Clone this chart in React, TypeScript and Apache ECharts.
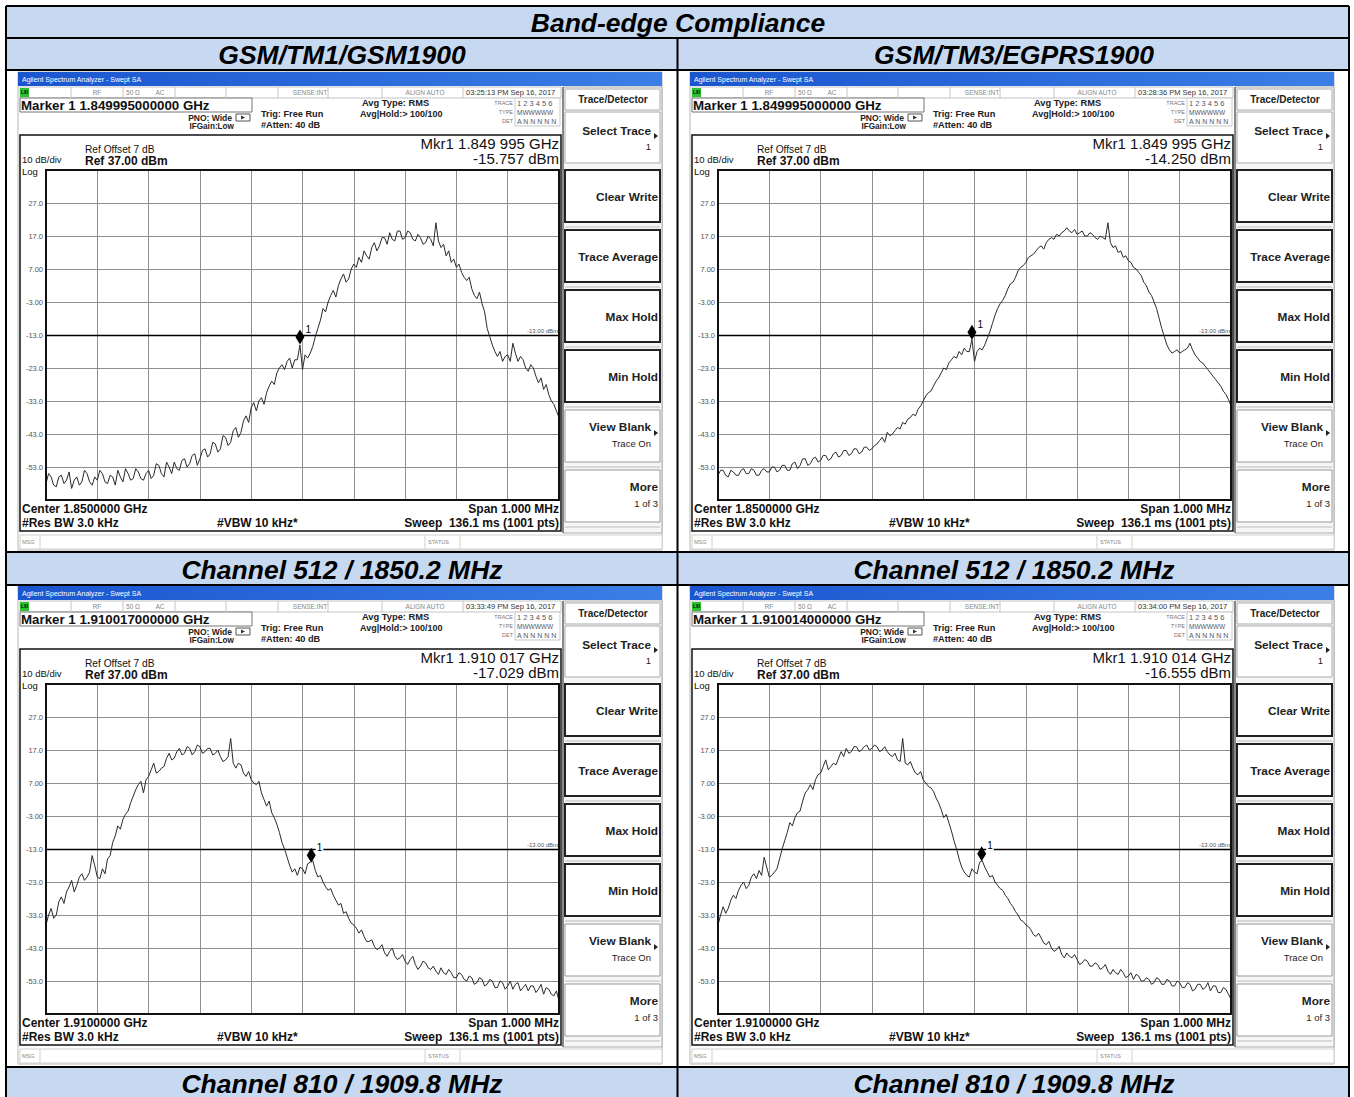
import React, { useEffect, useRef } from 'react';
import * as echarts from 'echarts';

const TITLE = 'Band-edge Compliance';
const COLUMN_HEADERS = ['GSM/TM1/GSM1900', 'GSM/TM3/EGPRS1900'];
const ROW_FOOTERS = ['Channel 512 / 1850.2 MHz', 'Channel 810 / 1909.8 MHz'];

const CENTER_TEXT = ['1.8500000', '1.8500000', '1.9100000', '1.9100000'];
const SPAN_KHZ = 1000;
const STEP_KHZ = 5;
const REF_LEVEL = 37;
const DB_PER_DIV = 10;
const LIMIT_DBM = -13;
const MARKER_OFFSET_KHZ = [495, 495, 517, 514];
const MARKER_LEVEL = [-15.757, -14.25, -17.029, -16.555];
const MARKER_FREQ_TEXT = ['1.849995000000', '1.849995000000', '1.910017000000', '1.910014000000'];
const MKR_FREQ_READOUT = ['1.849 995', '1.849 995', '1.910 017', '1.910 014'];
const MKR_LEVEL_READOUT = ['-15.757', '-14.250', '-17.029', '-16.555'];
const TIMESTAMPS = ['03:25:13 PM Sep 16, 2017', '03:28:36 PM Sep 16, 2017', '03:33:49 PM Sep 16, 2017', '03:34:00 PM Sep 16, 2017'];
const SOFTKEYS = [['Clear Write'], ['Trace Average'], ['Max Hold'], ['Min Hold'], ['View Blank', 'Trace On'], ['More', '1 of 3']];

const TRACE_1 = [
  -58, -55, -56, -58.5, -59, -56, -55.5, -58, -57, -54.5,
  -59.5, -57, -56, -58.5, -57.5, -54, -55, -57.5, -58.5, -56,
  -57, -54, -55, -57.5, -58, -55.5, -56, -58.5, -54, -56,
  -57.5, -53.5, -55, -57, -56.5, -53.5, -54.5, -56.5, -57, -55,
  -54, -56.5, -55.5, -52, -52.5, -55, -56, -51.5, -53, -55,
  -51.5, -53.5, -54, -51, -50.5, -53, -52, -49.5, -49, -52.5,
  -50.5, -48, -47.5, -50, -49, -45.5, -46, -48.5, -47.5, -43.5,
  -44, -46.5, -45.5, -42, -41, -44, -42.5, -39, -37.5, -39.5,
  -35, -33.5, -36, -33, -32, -34, -30.5, -28.5, -27, -28,
  -24.5, -23, -22, -23.5, -21, -20, -23, -20.5, -20.5, -16,
  -23.5, -19, -20, -18.5, -16.5, -13.5, -11, -8.5, -5, -6,
  -3, -1, 0.5, -1.5, 2, 4, 5.5, 3, 4, 7,
  8.5, 7.5, 10.5, 9, 12.5, 11, 10, 13.5, 15, 12.5,
  14, 16.5, 16.5, 14.5, 18, 16, 15.5, 18.5, 18.5, 16,
  16.5, 18.5, 18, 16, 15.5, 17.5, 16.5, 14.5, 15, 17,
  16, 14, 21, 15.5, 13.5, 14.5, 11, 12.5, 9, 10,
  7.5, 8.5, 6, 4.5, 3.5, 4.5, 1, -1, -2, 0,
  -3.5, -6, -11, -13.5, -16, -18, -19.5, -18, -21, -19.5,
  -19, -21, -15.5, -18.5, -21, -19.5, -20.5, -23, -24, -22,
  -23, -25.5, -27.5, -26, -29.5, -28, -31, -33, -34, -36,
  -38,
];
const TRACE_2 = [
  -55.5, -54, -54, -55.5, -56, -54, -54.5, -55.5, -55.5, -54,
  -53.5, -55, -55, -53.5, -54, -55.5, -55.5, -54, -53.5, -54.5,
  -54.5, -53, -53, -54.5, -54, -52.5, -52.5, -54, -54, -52,
  -51.5, -53.5, -52.5, -50.5, -50.5, -52.5, -52, -50.5, -50, -51.5,
  -51, -49.5, -49.5, -51, -50.5, -49, -48.5, -50, -49.5, -48,
  -48, -49.5, -49, -47.5, -47.5, -49, -48.5, -47, -47, -48,
  -47.5, -46.5, -46, -45, -44, -45.5, -42.5, -43.5, -43, -42,
  -41, -41.5, -39.5, -40, -38.5, -38, -37, -37.5, -35.5, -34.5,
  -33, -31.5, -30.5, -30, -28.5, -27, -26, -24.5, -23, -23.5,
  -21.5, -20.5, -19.5, -20, -18, -19, -17, -18, -18, -14.3,
  -21, -18, -17, -17.5, -16, -14, -12, -9.5, -7, -5,
  -3.5, -2.5, -1, 1, 2.5, 3, 4.5, 6.5, 7.5, 8,
  9, 10.5, 11, 11.5, 12.5, 13.5, 14, 13, 15, 16,
  16.5, 16, 17.5, 17, 18, 18.5, 19.5, 18.5, 18, 19,
  17.5, 18, 18.5, 17, 17, 18, 17.5, 16.5, 16, 17,
  16.5, 16, 21, 15, 13.5, 14, 12, 12.5, 10.5, 11,
  9.5, 9, 7.5, 7, 6, 5, 3, 2, 0, -1,
  -3, -5, -8, -11, -13.5, -16, -17.5, -18.5, -18, -17.5,
  -18.5, -18, -17.5, -17, -15.5, -17.5, -19, -20, -21, -21.5,
  -22.5, -23.5, -24.5, -25.5, -26.5, -27.5, -28.5, -30, -31, -32.5,
  -34.5,
];
const TRACE_3 = [
  -36, -33, -31, -34, -33, -29, -27.5, -29.5, -26, -24.5,
  -22.5, -26, -24, -21.5, -20.5, -22.5, -21.5, -20, -15, -18,
  -21.5, -22, -19, -20.5, -16, -15, -11, -9, -6, -7,
  -4, -2.5, -1.5, 1, 3, 5, 6.5, 7.5, 4, 8,
  9, 11, 13, 10, 10.5, 11.5, 12, 14.5, 16, 14,
  14.5, 16.5, 17.5, 15.5, 16, 18, 17.5, 15.5, 16.5, 18.5,
  18, 16, 16.5, 17.5, 17.5, 15.5, 16, 17, 15, 13.5,
  14, 15, 20.5, 13, 11.5, 13, 12.5, 10, 9, 10.5,
  8, 7, 6.5, 7.5, 4, 2, 0, 1.5, -2, -3.5,
  -5.5, -8, -11, -13, -15.5, -18, -20, -19, -21, -18.5,
  -19, -20.5, -17.5, -17, -16.5, -19.5, -21.5, -21, -23, -24.5,
  -25.5, -25, -27, -28.5, -30, -29.5, -32.5, -32, -34, -35.5,
  -36, -37, -38.5, -37.5, -39.5, -41, -41, -40.5, -42.5, -43.5,
  -43, -42, -44.5, -45.5, -44, -43, -45.5, -46.5, -46, -45,
  -47, -48, -46.5, -45.5, -48, -49.5, -48.5, -47, -47.5, -49,
  -49.5, -48.5, -50, -51, -49, -50.5, -51, -49.5, -50.5, -52,
  -52, -50.5, -51, -52.5, -53, -51.5, -52, -54, -53.5, -52,
  -52.5, -54.5, -54, -52.5, -53, -55, -55, -53, -53.5, -55.5,
  -54.5, -53, -55.5, -54, -53.5, -56, -55, -54, -56, -54.5,
  -54.5, -56.5, -55.5, -54, -57, -55, -55.5, -57, -57.5, -56,
  -59,
];
const TRACE_4 = [
  -36, -33, -30.5, -32.5, -31, -28.5, -27, -28, -25.5, -24,
  -23, -25, -24, -21.5, -20.5, -22, -19.5, -21, -15.5, -18.5,
  -21.5, -21, -20, -19, -16, -13, -10.5, -8, -5, -6,
  -3.5, -2, -1.5, 1.5, 4, 5, 6.5, 5, 8, 9.5,
  10, 12, 14, 11, 12, 13, 12.5, 14.5, 16.5, 15,
  17.5, 16, 16.5, 18, 18, 16.5, 17, 18, 18.5, 17,
  17.5, 18.5, 18, 16.5, 17, 18, 16.5, 15.5, 15, 16,
  14, 13.5, 20.5, 13, 12.5, 13.5, 11.5, 10, 9.5, 10.5,
  8, 7, 6, 5.5, 4.5, 2.5, 1, -1, -3.5, -2.5,
  -5, -7.5, -10.5, -13, -16, -18.5, -20, -21, -21.5, -19,
  -20, -20.5, -17, -16.5, -18.5, -20, -21.5, -21, -23, -24,
  -25, -25.5, -27, -28, -29.5, -30.5, -32, -33, -34.5, -35,
  -36, -36.5, -37.5, -39, -39.5, -38.5, -40, -41.5, -42, -41,
  -43, -44, -43.5, -42.5, -45, -46, -44.5, -45.5, -46, -45,
  -46.5, -48, -47.5, -46.5, -47, -48.5, -48.5, -47.5, -48, -49.5,
  -49, -48, -50, -51, -49.5, -50.5, -51, -49.5, -50.5, -52,
  -51.5, -50.5, -52.5, -51, -51.5, -53, -53, -52, -52.5, -54,
  -53.5, -52, -52.5, -54, -54, -52.5, -53, -54.5, -54.5, -53,
  -53.5, -55, -55, -53.5, -54, -56, -55.5, -54, -54, -55.5,
  -55, -53.5, -56, -54.5, -54.5, -56.5, -56.5, -55, -55.5, -57,
  -58.5,
];
const TRACES = [TRACE_1, TRACE_2, TRACE_3, TRACE_4];

const FONT = '"Liberation Sans", Arial, sans-serif';
const OFFSETS = [[0, 0], [672, 0], [0, 514], [672, 514]];

function T(x: number, y: number, text: string, size: number, o: any = {}) {
  const align = o.align || 'left';
  return {
    type: 'text', x, y, z: 50, silent: true,
    style: {
      text, fill: o.color || '#000', fontFamily: FONT, fontSize: size,
      fontWeight: o.bold ? 'bold' : 'normal', fontStyle: o.italic ? 'italic' : 'normal',
      align, verticalAlign: 'middle', textAlign: align, textVerticalAlign: 'middle',
    },
  };
}
function R(x: number, y: number, w: number, h: number, style: any, z = 1) {
  return { type: 'rect', z, silent: true, shape: { x, y, width: w, height: h }, style };
}
function L(x1: number, y1: number, x2: number, y2: number, stroke: string, lineWidth: number, z = 2) {
  return { type: 'line', z, silent: true, shape: { x1, y1, x2, y2 }, style: { stroke, lineWidth } };
}
function arrow(x: number, y: number) {
  return { type: 'polygon', z: 3, silent: true, shape: { points: [[x, y - 3], [x + 4, y], [x, y + 3]] }, style: { fill: '#222' } };
}

function panelElements(i: number) {
  const [ox, oy] = OFFSETS[i];
  const X = (v: number) => v + ox;
  const Y = (v: number) => v + oy;
  const e: any[] = [];
  e.push(R(X(18), Y(72), 644, 478, { fill: '#fff', stroke: '#b8b8b8', lineWidth: 1 }, 0));
  e.push(R(X(18), Y(72), 644, 14, {
    fill: new echarts.graphic.LinearGradient(0, 0, 1, 0, [
      { offset: 0, color: '#1a55cf' }, { offset: 1, color: '#3b7fe6' },
    ]),
  }, 1));
  e.push(T(X(22), Y(79), 'Agilent Spectrum Analyzer - Swept SA', 7, { color: '#fff' }));
  // status row
  e.push(R(X(20), Y(87), 541, 11, { fill: '#fff', stroke: '#c4c4c4', lineWidth: 1 }, 1));
  [71, 123, 175, 226, 278, 328, 382, 463].forEach((sx) => e.push(L(X(sx), Y(87), X(sx), Y(98), '#c4c4c4', 1)));
  e.push(R(X(20), Y(88), 9, 9, { fill: '#2fc02f' }, 2));
  e.push(T(X(21), Y(92.5), 'LXI', 4.5, { color: '#000', bold: true }));
  e.push(T(X(97), Y(92.5), 'RF', 6.5, { color: '#888', align: 'center' }));
  e.push(T(X(133), Y(92.5), '50 Ω', 6.5, { color: '#888', align: 'center' }));
  e.push(T(X(160), Y(92.5), 'AC', 6.5, { color: '#888', align: 'center' }));
  e.push(T(X(310), Y(92.5), 'SENSE:INT', 6.5, { color: '#888', align: 'center' }));
  e.push(T(X(425), Y(92.5), 'ALIGN AUTO', 6.5, { color: '#888', align: 'center' }));
  e.push(T(X(466), Y(92.5), TIMESTAMPS[i], 7.5, { color: '#333' }));
  // marker box & settings
  e.push(R(X(20), Y(98), 232, 14, { fill: '#fff', stroke: '#777', lineWidth: 1 }, 1));
  e.push(T(X(21), Y(105.5), 'Marker 1 ' + MARKER_FREQ_TEXT[i] + ' GHz', 13.3, { bold: true, color: '#111' }));
  e.push(T(X(232), Y(117.5), 'PNO: Wide', 8.5, { bold: true, align: 'right', color: '#222' }));
  e.push(R(X(236), Y(114), 14, 7, { fill: 'none', stroke: '#555', lineWidth: 1 }, 2));
  e.push({ type: 'polygon', z: 3, silent: true, shape: { points: [[X(241), Y(115.5)], [X(245), Y(117.5)], [X(241), Y(119.5)]] }, style: { fill: '#333' } });
  e.push(T(X(234), Y(126.5), 'IFGain:Low', 8.2, { bold: true, align: 'right', color: '#222' }));
  e.push(T(X(261), Y(114), 'Trig: Free Run', 9.2, { bold: true, color: '#222' }));
  e.push(T(X(261), Y(125), '#Atten: 40 dB', 9.2, { bold: true, color: '#222' }));
  e.push(T(X(362), Y(103), 'Avg Type: RMS', 9.3, { bold: true, color: '#222' }));
  e.push(T(X(360), Y(114), 'Avg|Hold:> 100/100', 9, { bold: true, color: '#222' }));
  e.push(R(X(515), Y(98), 45, 28, { fill: '#fff', stroke: '#c8c8c8', lineWidth: 1 }, 1));
  e.push(T(X(513), Y(103), 'TRACE', 5.5, { align: 'right', color: '#777' }));
  e.push(T(X(513), Y(112), 'TYPE', 5.5, { align: 'right', color: '#777' }));
  e.push(T(X(513), Y(121), 'DET', 5.5, { align: 'right', color: '#777' }));
  e.push(T(X(517), Y(103.5), '1 2 3 4 5 6', 7.5, { color: '#556' }));
  e.push(T(X(517), Y(112.5), 'MWWWWW', 6.5, { color: '#556' }));
  e.push(T(X(517), Y(121.5), 'A N N N N N', 7, { color: '#556' }));
  // main display
  e.push(R(X(20), Y(135), 541, 396, { fill: 'none', stroke: '#111', lineWidth: 1.5 }, 3));
  e.push(T(X(85), Y(149.5), 'Ref Offset 7 dB', 10.2, { color: '#111' }));
  e.push(T(X(22), Y(159.5), '10 dB/div', 9.5, { color: '#111' }));
  e.push(T(X(85), Y(161), 'Ref 37.00 dBm', 12, { bold: true, color: '#111' }));
  e.push(T(X(22), Y(171.5), 'Log', 9.5, { color: '#111' }));
  e.push(T(X(559), Y(143.5), 'Mkr1 ' + MKR_FREQ_READOUT[i] + ' GHz', 15, { align: 'right', color: '#111' }));
  e.push(T(X(559), Y(158.5), MKR_LEVEL_READOUT[i] + ' dBm', 15, { align: 'right', color: '#111' }));
  e.push(R(X(46), Y(170), 513, 330, { fill: 'none', stroke: '#111', lineWidth: 2 }, 40));
  e.push(T(X(22), Y(508.5), 'Center ' + CENTER_TEXT[i] + ' GHz', 12, { bold: true, color: '#111' }));
  e.push(T(X(559), Y(508.5), 'Span 1.000 MHz', 12, { bold: true, align: 'right', color: '#111' }));
  e.push(T(X(22), Y(522.5), '#Res BW 3.0 kHz', 12, { bold: true, color: '#111' }));
  e.push(T(X(217), Y(522.5), '#VBW 10 kHz*', 12, { bold: true, color: '#111' }));
  e.push(T(X(559), Y(522.5), 'Sweep  136.1 ms (1001 pts)', 12, { bold: true, align: 'right', color: '#111' }));
  // msg bar
  e.push(R(X(20), Y(535), 642, 14, { fill: '#fff', stroke: '#d0d0d0', lineWidth: 1 }, 1));
  e.push(L(X(40), Y(535), X(40), Y(549), '#d0d0d0', 1));
  e.push(L(X(425), Y(535), X(425), Y(549), '#d0d0d0', 1));
  e.push(L(X(460), Y(535), X(460), Y(549), '#d0d0d0', 1));
  e.push(T(X(22), Y(542), 'MSG', 5.5, { color: '#888' }));
  e.push(T(X(428), Y(542), 'STATUS', 5.5, { color: '#888' }));
  // softkeys
  e.push(R(X(563), Y(87), 99, 446, { fill: '#f6f6f6', stroke: '#aaa', lineWidth: 1 }, 1));
  e.push(L(X(563), Y(87), X(563), Y(533), '#888', 2));
  e.push(R(X(565), Y(89), 95, 21, { fill: '#fff', stroke: '#aaa', lineWidth: 1 }, 2));
  e.push(T(X(613), Y(99.5), 'Trace/Detector', 10, { bold: true, align: 'center', color: '#222' }));
  e.push(R(X(565), Y(112), 95, 51, { fill: '#fff', stroke: '#aaa', lineWidth: 1 }, 2));
  e.push(T(X(651), Y(130.5), 'Select Trace', 11.8, { bold: true, align: 'right', color: '#222' }));
  e.push(arrow(X(654), Y(136)));
  e.push(T(X(651), Y(146.5), '1', 9.5, { align: 'right', color: '#222' }));
  SOFTKEYS.forEach((lines, k) => {
    const top = 170 + 60 * k;
    const strong = k < 4;
    e.push(R(X(565), Y(top), 95, 52, { fill: '#fff', stroke: strong ? '#222' : '#999', lineWidth: strong ? 2 : 1 }, 2));
    e.push(L(X(565), Y(top + 57), X(660), Y(top + 57), '#bbb', 1));
    if (lines.length === 1) {
      e.push(T(X(658), Y(top + 27), lines[0], 11.8, { bold: true, align: 'right', color: '#222' }));
    } else {
      const rx = k === 4 ? 651 : 658;
      e.push(T(X(rx), Y(top + 17), lines[0], 11.8, { bold: true, align: 'right', color: '#222' }));
      e.push(T(X(rx), Y(top + 33), lines[1], 9.5, { align: 'right', color: '#222' }));
      if (k === 4) e.push(arrow(X(654), Y(top + 23)));
    }
  });
  return e;
}

function tableElements() {
  const e: any[] = [];
  const blue = '#c6d9f1';
  e.push(R(7, 7, 1342, 31, { fill: blue }, 0));
  e.push(R(7, 39, 1342, 31, { fill: blue }, 0));
  e.push(R(7, 553, 1342, 32, { fill: blue }, 0));
  e.push(R(7, 1068, 1342, 30, { fill: blue }, 0));
  [6, 38, 70, 552, 585, 1067].forEach((y) => e.push(L(6, y, 1349, y, '#000', 2, 5)));
  e.push(L(6, 6, 6, 1097, '#000', 2, 5));
  e.push(L(1349, 6, 1349, 1097, '#000', 2, 5));
  e.push(L(677.5, 38, 677.5, 1097, '#000', 2, 5));
  const hdr = { bold: true, italic: true, align: 'center', color: '#000' };
  e.push(T(678, 23, TITLE, 26.5, hdr));
  e.push(T(342, 55, COLUMN_HEADERS[0], 26.5, hdr));
  e.push(T(1014, 55, COLUMN_HEADERS[1], 26.5, hdr));
  e.push(T(342, 569.5, ROW_FOOTERS[0], 26.5, hdr));
  e.push(T(1014, 569.5, ROW_FOOTERS[0], 26.5, hdr));
  e.push(T(342, 1083.5, ROW_FOOTERS[1], 26.5, hdr));
  e.push(T(1014, 1083.5, ROW_FOOTERS[1], 26.5, hdr));
  return e;
}

export default function App() {
  const ref = useRef<HTMLDivElement>(null);
  useEffect(() => {
    if (!ref.current) return;
    const chart = echarts.init(ref.current, undefined, { renderer: 'svg' });
    const bottom = REF_LEVEL - 10 * DB_PER_DIV;
    const grids = OFFSETS.map(([ox, oy]) => ({ left: 46 + ox, top: 170 + oy, width: 513, height: 330, show: false }));
    const grid = { color: '#8f8f8f', width: 1 };
    const xAxis = OFFSETS.map((_, i) => ({
      gridIndex: i, type: 'value', min: 0, max: SPAN_KHZ, interval: SPAN_KHZ / 10,
      axisLabel: { show: false }, axisTick: { show: false }, axisLine: { show: false },
      splitLine: { show: true, lineStyle: grid },
    }));
    const yAxis = OFFSETS.map((_, i) => ({
      gridIndex: i, type: 'value', min: bottom, max: REF_LEVEL, interval: DB_PER_DIV,
      axisLine: { show: false }, axisTick: { show: false },
      splitLine: { show: true, lineStyle: grid },
      axisLabel: {
        show: true, showMinLabel: false, showMaxLabel: false, margin: 3,
        fontSize: 7.5, color: '#555', fontFamily: FONT,
        formatter: (v: number) => Number(v).toPrecision(3),
      },
    }));
    const series = TRACES.map((tr, i) => ({
      type: 'line', xAxisIndex: i, yAxisIndex: i, showSymbol: false, symbol: 'none',
      lineStyle: { color: '#2a2a2a', width: 1 }, z: 5,
      data: tr.map((v, k) => [k * STEP_KHZ, v]),
      markLine: {
        silent: true, symbol: ['none', 'none'], animation: false,
        lineStyle: { color: '#000', width: 1.3, type: 'solid' },
        label: { show: true, position: 'insideEndTop', formatter: LIMIT_DBM.toFixed(2) + ' dBm', fontSize: 6, color: '#555', fontFamily: FONT, distance: 1 },
        data: [{ yAxis: LIMIT_DBM }],
      },
      markPoint: {
        silent: true, animation: false,
        symbol: 'diamond', symbolSize: [9, 15], symbolOffset: [0, -7],
        itemStyle: { color: '#000' },
        label: {
          show: true, formatter: '1', position: 'right', offset: [0, -8], distance: 0,
          fontSize: 10, color: '#000', fontFamily: FONT, backgroundColor: '#fff', padding: [0, 1],
        },
        data: [{ coord: [MARKER_OFFSET_KHZ[i], MARKER_LEVEL[i]] }],
      },
    }));
    const elements = [...tableElements()];
    OFFSETS.forEach((_, i) => elements.push(...panelElements(i)));
    chart.setOption({
      animation: false,
      backgroundColor: '#fff',
      grid: grids, xAxis, yAxis, series,
      graphic: { elements },
    });
    return () => chart.dispose();
  }, []);
  return <div ref={ref} style={{ position: 'absolute', left: 0, top: 0, width: 1354, height: 1097 }} />;
}
